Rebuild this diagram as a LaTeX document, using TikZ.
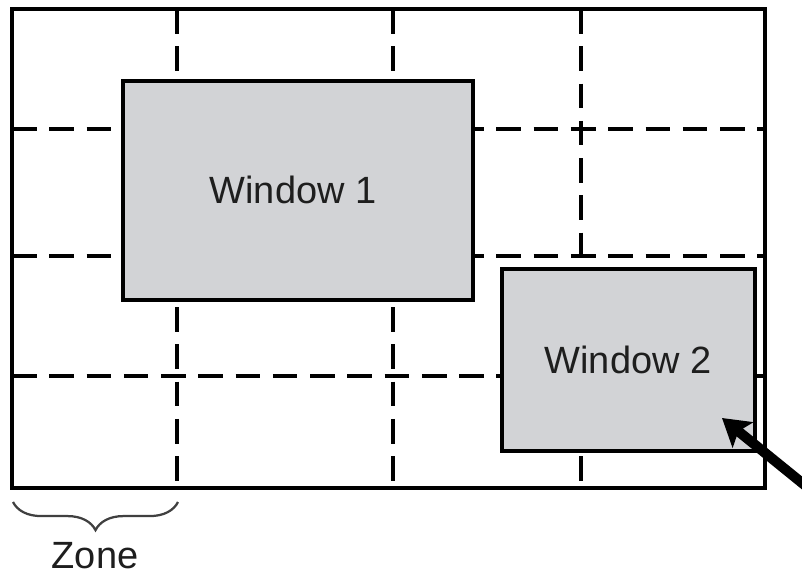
\documentclass[tikz,border=0pt]{standalone}
\usepackage{fontspec}
\setmainfont{Liberation Sans}
\usetikzlibrary{arrows.meta,decorations.pathreplacing}
\definecolor{wingray}{RGB}{210,211,214}
\definecolor{inkgray}{RGB}{30,30,30}
\tikzset{
    gridline/.style={line width=2.7pt, dash pattern=on 17.5pt off 9pt},
    winbox/.style={draw, fill=wingray, line width=2.7pt},
    label/.style={text=inkgray, font=\fontsize{27}{32}\selectfont}
}
\begin{document}
\begin{tikzpicture}[x=0.025cm, y=-0.025cm]
    \useasboundingbox (0,0) rectangle (802,575);

    % Zone grid
    \foreach \x in {177,393,581}
        \draw[gridline] (\x,9) -- (\x,488);
    \foreach \y in {129,256,376}
        \draw[gridline] (12,\y) -- (765,\y);
    \draw[line width=2.8pt] (12,9) rectangle (765,488);

    % Windows
    \draw[winbox] (123,81) rectangle (473,300);
    \draw[winbox] (502,269) rectangle (755,451);
    \node[label] (win1) at (293,190) {Window 1};
    \node[label] (win2) at (628,360) {Window 2};

    % Pointer
    \coordinate (ptr) at (722,418);
    \coordinate (ptrtail) at (812,491);
    \draw[line width=7.2pt, -{Stealth[length=19pt, width=23pt, inset=4pt]}] (ptrtail) -- (ptr);

    % Zone brace
    \draw[inkgray!85, line width=1.6pt, decorate, decoration={brace, mirror, amplitude=20pt}]
        (13,502) -- (178,502);
    \node[label] (zone) at (95,556) {Zone};
\end{tikzpicture}
\end{document}
